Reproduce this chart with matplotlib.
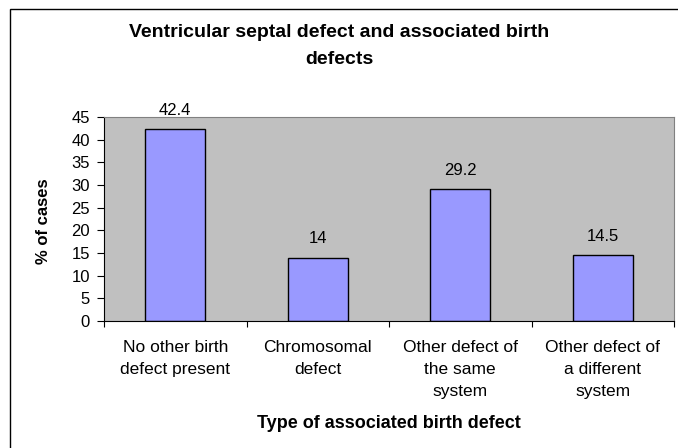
import matplotlib.pyplot as plt
from matplotlib.patches import Rectangle
import numpy as np

plt.rcParams['font.family'] = ['Liberation Sans', 'DejaVu Sans']

# Data
categories = ['No other birth\ndefect present', 'Chromosomal\ndefect',
              'Other defect of\nthe same\nsystem', 'Other defect of\na different\nsystem']
percent = [42.4, 14, 29.2, 14.5]
value_labels = ['42.4', '14', '29.2', '14.5']

fig = plt.figure(figsize=(6.78, 4.48), dpi=100)
ax = fig.add_axes([104/678, 1 - 321/448, 570/678, 204/448])

x = np.arange(len(categories))
ax.bar(x, percent, width=0.42, color='#9999FF', edgecolor='black', linewidth=1)

for xi, v, lab in zip(x, percent, value_labels):
    ax.annotate(lab, (xi, v), xytext=(0, 8), textcoords='offset points',
                ha='center', va='bottom', fontsize=12)

ax.set_facecolor('#C0C0C0')
ax.set_xlim(-0.5, 3.5)
ax.set_ylim(0, 45)
ax.set_yticks(range(0, 46, 5))
ax.tick_params(axis='y', labelsize=12, length=5, direction='out', pad=5)

# category ticks at boundaries, labels in the middle
ax.set_xticks(np.arange(-0.5, 4, 1))
ax.set_xticklabels([])
ax.set_xticks(x, minor=True)
ax.set_xticklabels(categories, minor=True, fontsize=12.5, linespacing=1.6)
ax.tick_params(axis='x', which='major', length=4.5, direction='out')
ax.tick_params(axis='x', which='minor', length=0, pad=13.5)

for s in ['top', 'right']:
    ax.spines[s].set_color('#808080')
ax.spines['left'].set_color('black')
ax.spines['bottom'].set_color('black')

ax.set_ylabel('% of cases', fontsize=12, fontweight='bold', va='center')
ax.yaxis.set_label_coords(-0.107, 0.49)
ax.set_xlabel('Type of associated birth defect', fontsize=13, fontweight='bold', va='center')
ax.xaxis.set_label_coords(0.5, -0.5)

fig.text(0.5, 1 - 46/448, 'Ventricular septal defect and associated birth\ndefects',
         ha='center', va='center', fontsize=14, fontweight='bold', linespacing=1.75)

# chart border
fig.patches.append(Rectangle((10/678, -0.05), 1.1, 1 - 9/448 + 0.05, transform=fig.transFigure,
                             fill=False, edgecolor='black', linewidth=1))

fig.savefig('out.png', dpi=100)
